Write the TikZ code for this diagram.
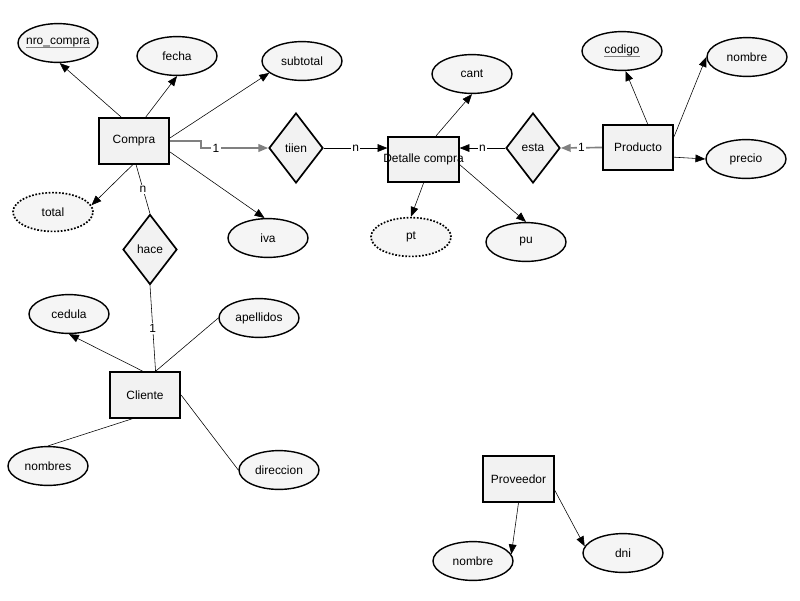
\documentclass[tikz,border=0pt]{standalone}
\usepackage{fontspec}
\setmainfont{Liberation Sans}
\usepackage{tikz}
\usetikzlibrary{shapes.geometric,arrows.meta,positioning}

\newcommand{\clave}[1]{\makebox[0pt]{\setbox0=\hbox{#1}\rlap{\color{gray}\rule[-2.5pt]{\wd0}{0.9pt}}\box0}}

\begin{document}
\begin{tikzpicture}[x=0.025cm,y=-0.025cm,->,>={Triangle[length=7pt,width=5.5pt]},
	font=\fontsize{8.5}{10}\selectfont,
	entidad/.style={rectangle,draw,line width=1.3pt,fill=black!5,minimum width=1.76cm,minimum height=1.14cm,inner sep=0pt},
	atributo/.style={ellipse,draw,line width=1pt,fill=black!4,minimum width=2cm,minimum height=0.97cm,inner sep=0pt},
	derivado/.style={atributo,line width=1.2pt,dash pattern=on 1.2pt off 1.2pt},
	relacion/.style={diamond,draw,line width=1.2pt,fill=black!5,minimum width=1.35cm,minimum height=1.75cm,inner sep=0pt},
	card/.style={fill=white,inner sep=1pt},
	uno/.style={draw=black!50,line width=1.2pt}]
	
	\useasboundingbox (0,0) rectangle (800,600);
	
	% entidades
	\node [entidad] (compra) at (134,141) {Compra};
	\node [entidad] (detalle) at (423.5,159.5) {\makebox[0pt]{\raisebox{1.5pt}{Detalle compra}}};
	\node [entidad] (producto) at (638,147.5) {Producto};
	\node [entidad] (cliente) at (145,395) {Cliente};
	\node [entidad] (proveedor) at (518.5,479) {Proveedor};
	
	% relaciones
	\node [relacion] (tiien) at (296,148) {tiien};
	\node [relacion] (esta) at (533,148) {esta};
	\node [relacion] (hace) at (150,249.5) {hace};
	
	% atributos
	\node [atributo] (nrocompra) at (58,43) {\clave{nro\_compra}};
	\node [atributo] (fecha) at (177,56) {fecha};
	\node [atributo] (subtotal) at (302,61) {subtotal};
	\node [derivado] (total) at (53,212) {total};
	\node [atributo] (iva) at (268,238) {iva};
	\node [atributo] (cant) at (472,74) {cant};
	\node [derivado] (pt) at (411,237) {pt};
	\node [atributo] (pu) at (526,242) {pu};
	\node [atributo] (codigo) at (622,51) {\clave{codigo}};
	\node [atributo] (nombre) at (747,57) {nombre};
	\node [atributo] (precio) at (746,159) {precio};
	\node [atributo] (cedula) at (69,314) {cedula};
	\node [atributo] (apellidos) at (259,318) {apellidos};
	\node [atributo] (nombres) at (48,466) {nombres};
	\node [atributo] (direccion) at (279,470) {direccion};
	\node [atributo] (nombreprov) at (473,561) {nombre};
	\node [atributo] (dni) at (623,553) {dni};
	
	\draw (compra.118) to (nrocompra.275);
	\draw (compra.64) to (fecha.south);
	\draw (compra.5) to (subtotal.200);
	\draw (compra.343) to (iva.100);
	\draw (compra.267) to (total.10);
	\draw [-] (compra.275) -- node [card] {n} (hace.north);
	\draw [uno] (compra.east) -- ++(31,0) |- node [card,pos=0.61] {1} (tiien.west);
	\draw (tiien.east) -- node [card] {n} (tiien.east -| detalle.west);
	
	\draw (detalle.62) to (cant.south);
	\draw (detalle.270) to (pt.north);
	\draw (detalle.352) to (pu.north);
	\draw (esta.west) -- node [card] {n} (esta.west -| detalle.east);
	\draw [uno] (producto.west) -- node [card,text=black] {1} (esta.east);
	
	\draw (producto.68) to (codigo.280);
	\draw (producto.17) to (nombre.west);
	\draw (producto.345) to (precio.west);
	
	\draw [-] (hace.south) -- node [card] {1} (cliente.66);
	\draw (cliente.95) to (cedula.south);
	\draw [-] (cliente.66) to (apellidos.west);
	\draw [-] (cliente.242) to (nombres.north);
	\draw [-] (cliente.east) to (direccion.west);
	
	\draw (proveedor.south) to (nombreprov.10);
	\draw (proveedor.343) to (dni.170);
\end{tikzpicture}
\end{document}
